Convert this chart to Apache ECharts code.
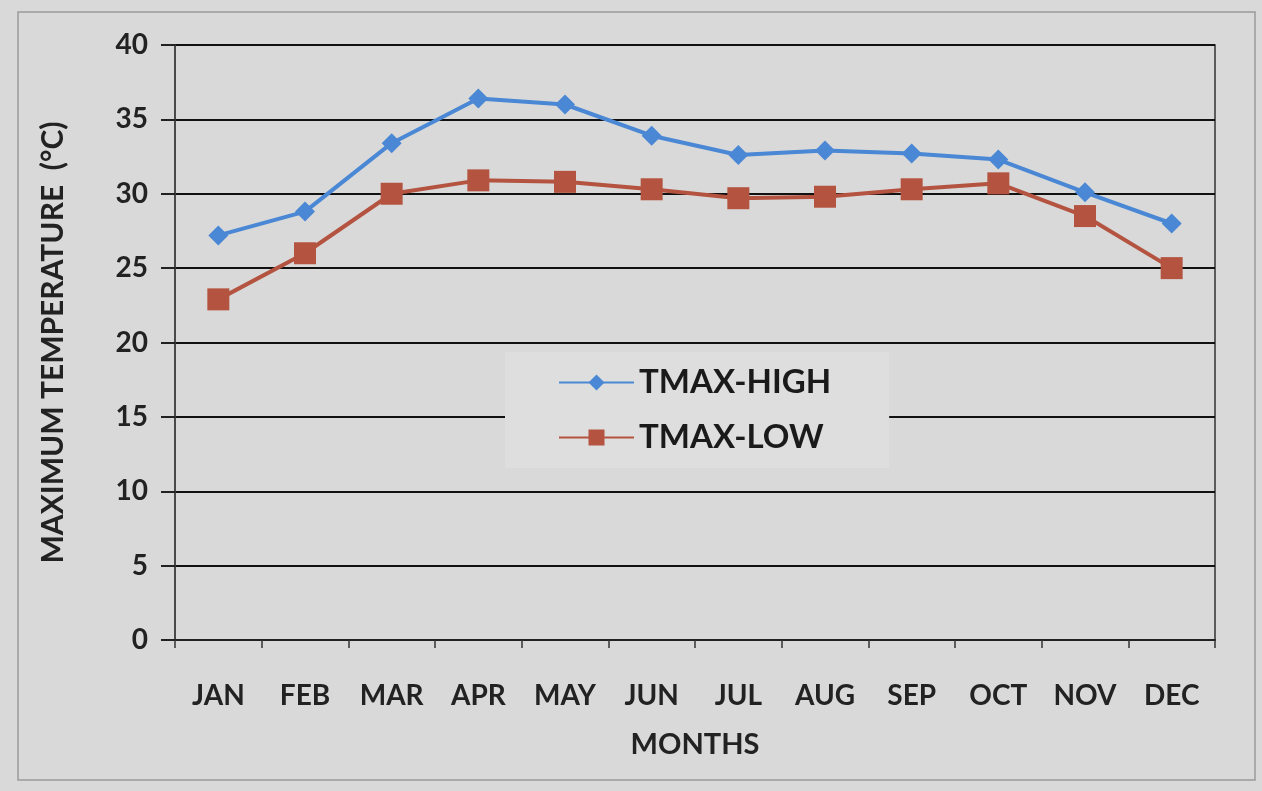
<!DOCTYPE html>
<html lang="en">
<head>
    <meta charset="UTF-8">
    <title>TMAX</title>
    <script type="text/javascript" src="https://cdn.jsdelivr.net/npm/echarts@6/dist/echarts.min.js"></script>
    <style>
        html, body { margin: 0; padding: 0; background: #d9d9d9; }
    </style>
</head>
<body>

    <div id="chart" style="width:1262px;height:791px;"></div>

<script type="text/javascript">
    var months = ['JAN', 'FEB', 'MAR', 'APR', 'MAY', 'JUN', 'JUL', 'AUG', 'SEP', 'OCT', 'NOV', 'DEC'];
    var tmaxHigh = [27.2, 28.8, 33.4, 36.4, 36.0, 33.9, 32.6, 32.9, 32.7, 32.3, 30.1, 28.0];
    var tmaxLow = [22.9, 26.0, 30.0, 30.9, 30.8, 30.3, 29.7, 29.8, 30.3, 30.7, 28.5, 25.0];

    var font = 'Lato, "Open Sans", sans-serif';
    var myChart = echarts.init(document.getElementById('chart'));

    var option = {
        backgroundColor: '#d9d9d9',
        textStyle: { fontFamily: font },
        graphic: [{
            type: 'rect',
            shape: { x: 18, y: 12, width: 1237, height: 768 },
            style: { fill: 'none', stroke: '#9a9a9a', lineWidth: 1.5 },
            z: -1
        }],
        grid: {
            left: 175, right: 47, top: 45, bottom: 151,
            show: true, borderColor: '#333', borderWidth: 1.5, backgroundColor: 'transparent'
        },
        legend: {
            orient: 'vertical',
            left: 505,
            top: 352,
            padding: [14, 58, 14, 53],
            itemGap: 22,
            itemWidth: 75,
            itemHeight: 20,
            backgroundColor: '#dedede',
            textStyle: { fontSize: 33, fontWeight: 'bold', color: '#1a1a1a', fontFamily: font },
            data: ['TMAX-HIGH', 'TMAX-LOW']
        },
        xAxis: {
            type: 'category',
            data: months,
            boundaryGap: true,
            name: 'MONTHS',
            nameLocation: 'middle',
            nameGap: 90,
            nameTextStyle: { fontSize: 29, fontWeight: 'bold', color: '#222' },
            axisLine: { lineStyle: { color: '#222', width: 2 } },
            axisTick: { show: true, length: 8, lineStyle: { color: '#333', width: 1.5 } },
            axisLabel: { fontSize: 28, fontWeight: 'bold', color: '#222', margin: 42 }
        },
        yAxis: {
            type: 'value',
            min: 0,
            max: 40,
            interval: 5,
            name: 'MAXIMUM TEMPERATURE  (\u00b0C)',
            nameLocation: 'middle',
            nameGap: 107,
            nameTextStyle: { fontSize: 30, fontWeight: 'bold', color: '#222' },
            axisLine: { show: true, lineStyle: { color: '#444', width: 1.5 } },
            axisTick: { show: true, length: 14, lineStyle: { color: '#222', width: 2 } },
            axisLabel: { fontSize: 28, fontWeight: 'bold', color: '#222', margin: 27 },
            splitLine: { lineStyle: { color: '#111', width: 2 } }
        },
        series: [{
            name: 'TMAX-HIGH',
            type: 'line',
            data: tmaxHigh,
            symbol: 'diamond',
            symbolSize: 20,
            lineStyle: { color: '#4a87d4', width: 4 },
            itemStyle: { color: '#4a87d4' },
            z: 3
        }, {
            name: 'TMAX-LOW',
            type: 'line',
            data: tmaxLow,
            symbol: 'rect',
            symbolSize: 22,
            lineStyle: { color: '#b45440', width: 4 },
            itemStyle: { color: '#b45440' },
            z: 2
        }]
    };

    myChart.setOption(option, true);
</script>

</body>
</html>
